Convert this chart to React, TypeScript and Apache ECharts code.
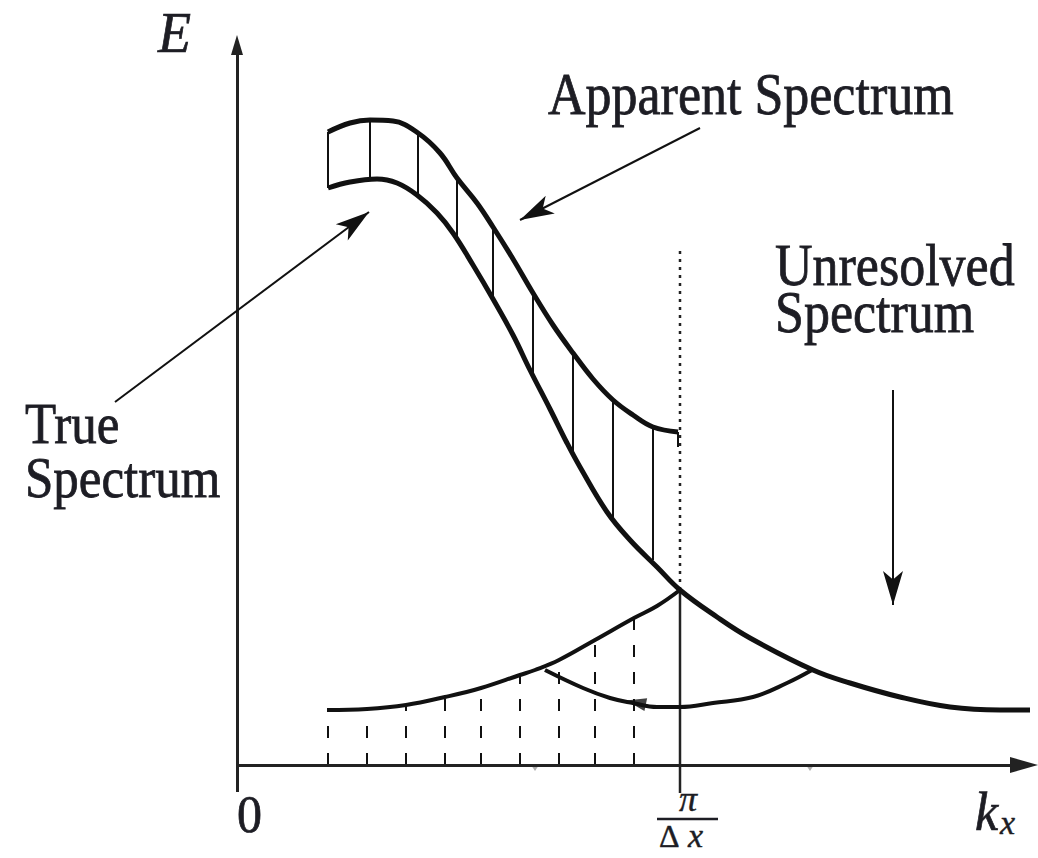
import React, { useEffect, useRef } from "react";
import * as echarts from "echarts";

// ---- data (x = k_x, y = E) ----
const TRUE_X = [0.91, 1.13, 1.40, 1.60, 1.80, 2.00, 2.16, 2.36, 2.56, 2.76, 2.93, 3.13, 3.30, 3.43, 3.70, 3.93, 4.20, 4.43, 4.80, 5.13, 5.76, 6.13, 6.63, 7.13, 7.63, 7.93];
const TRUE_Y = [5.77, 5.83, 5.86, 5.82, 5.70, 5.52, 5.32, 5.00, 4.66, 4.30, 3.95, 3.56, 3.22, 2.98, 2.53, 2.25, 1.98, 1.75, 1.48, 1.27, 0.95, 0.82, 0.68, 0.58, 0.55, 0.55];

const APP_X = [0.91, 1.13, 1.33, 1.56, 1.81, 2.03, 2.20, 2.40, 2.56, 2.76, 2.96, 3.16, 3.36, 3.56, 3.76, 3.96, 4.16, 4.41];
const APP_Y = [6.33, 6.42, 6.45, 6.44, 6.32, 6.12, 5.87, 5.62, 5.38, 5.06, 4.72, 4.40, 4.12, 3.86, 3.65, 3.50, 3.38, 3.33];

const FOLD_X = [0.90, 1.30, 1.69, 2.08, 2.44, 2.83, 2.98, 3.22, 3.58, 3.97, 4.20, 4.43];
const FOLD_Y = [0.55, 0.56, 0.60, 0.68, 0.77, 0.90, 0.95, 1.05, 1.25, 1.47, 1.59, 1.75];

const ARC_X = [3.08, 3.46, 3.73, 3.96, 4.20, 4.43, 4.76, 5.16, 5.50, 5.75];
const ARC_Y = [0.95, 0.77, 0.67, 0.62, 0.58, 0.58, 0.62, 0.68, 0.82, 0.95];
const ARC_HEAD = [3.99, 0.625];

const HATCH_X = [0.91, 1.33, 1.81, 2.20, 2.56, 2.96, 3.36, 3.76, 4.16, 4.41];
const HATCH_LO = [5.77, 5.86, 5.69, 5.26, 4.66, 3.87, 3.10, 2.47, 2.05, 3.18];
const HATCH_HI = [6.33, 6.45, 6.32, 5.87, 5.38, 4.72, 4.12, 3.65, 3.38, 3.33];

const DASH_X = [0.91, 1.30, 1.69, 2.08, 2.44, 2.83, 3.22, 3.58, 3.97];
const DASH_TOP = [0.55, 0.56, 0.60, 0.68, 0.77, 0.90, 1.05, 1.25, 1.47];

const NYQUIST = 4.43;
const NYQ_SOLID = [-0.28, 1.75];
const NYQ_DOTTED = [1.75, 5.15];

const AXIS_Y = [-0.27, 7.2];
const AXIS_X = [0, 7.87];

// annotation arrows: [fromX, fromY, toX, toY]
const ARROW_APPARENT = [4.63, 6.37, 2.83, 5.45];
const ARROW_TRUE = [-1.22, 3.63, 1.32, 5.53];
const ARROW_UNRESOLVED = [6.56, 3.75, 6.56, 1.6];

const TICK_MARKS_X = [2.98, 5.73];

const LABEL_APPARENT = "Apparent Spectrum";
const LABEL_UNRESOLVED = ["Unresolved", "Spectrum"];
const LABEL_TRUE = ["True", "Spectrum"];
const LABEL_E = "E";
const LABEL_ZERO = "0";
const LABEL_PI = "π";
const LABEL_DELTA = "Δ";
const LABEL_X = "x";
const LABEL_K = "k";

const INK = "#111";
const TEXT_INK = "#1d1d24";
const SERIF = '"Liberation Serif", "Times New Roman", serif';

const zip = (xs: number[], ys: number[]) => xs.map((x, i) => [x, ys[i]]);

function label(text: string, left: number, baseline: number, size: number, opts: any = {}) {
  const scaleY = opts.scaleY ?? 1;
  const align = opts.align ?? "left";
  return {
    type: "text",
    x: left,
    y: baseline - 0.34 * size * scaleY,
    scaleY,
    silent: true,
    style: {
      text,
      x: 0,
      y: 0,
      fill: TEXT_INK,
      stroke: TEXT_INK,
      lineWidth: opts.weight ?? 0.7,
      font: `${opts.italic ? "italic " : ""}${size}px ${SERIF}`,
      textAlign: align,
      textVerticalAlign: "middle",
    },
  };
}

function arrowLine(a: number[], size: number[], symbol = "arrow") {
  return [
    { coord: [a[0], a[1]], symbol: "none" },
    { coord: [a[2], a[3]], symbol, symbolSize: size },
  ];
}

export default function App() {
  const ref = useRef<HTMLDivElement>(null);
  useEffect(() => {
    if (!ref.current) return;
    const chart = echarts.init(ref.current, undefined, { renderer: "svg" });
    const option: any = {
      animation: false,
      backgroundColor: "#fff",
      grid: { left: 0, right: 0, top: 0, bottom: 0, containLabel: false },
      xAxis: { type: "value", min: -2.37, max: 8.01, show: false },
      yAxis: { type: "value", min: -0.93, max: 7.65, show: false },
      series: [
        {
          name: "True spectrum",
          type: "line",
          data: zip(TRUE_X, TRUE_Y),
          smooth: 0.4,
          symbol: "none",
          silent: true,
          z: 5,
          lineStyle: { color: INK, width: 5 },
          markLine: {
            silent: true,
            symbol: ["none", "none"],
            label: { show: false },
            lineStyle: { color: INK, width: 2, type: "solid" },
            data: HATCH_X.map((x, i) => [{ coord: [x, HATCH_LO[i]] }, { coord: [x, HATCH_HI[i]] }]),
          },
        },
        {
          name: "Apparent spectrum",
          type: "line",
          data: zip(APP_X, APP_Y),
          smooth: 0.4,
          symbol: "none",
          silent: true,
          z: 5,
          lineStyle: { color: INK, width: 5 },
        },
        {
          name: "Aliased spectrum",
          type: "line",
          data: zip(FOLD_X, FOLD_Y),
          smooth: 0.4,
          symbol: "none",
          silent: true,
          z: 5,
          lineStyle: { color: INK, width: 4 },
          markLine: {
            silent: true,
            symbol: ["none", "none"],
            label: { show: false },
            lineStyle: { color: INK, width: 2, type: [12, 15] },
            data: DASH_X.map((x, i) => [{ coord: [x, 0] }, { coord: [x, DASH_TOP[i]] }]),
          },
        },
        {
          name: "Fold",
          type: "line",
          data: zip(ARC_X, ARC_Y),
          smooth: 0.4,
          symbol: "none",
          silent: true,
          z: 5,
          lineStyle: { color: INK, width: 4 },
        },
        {
          name: "Fold arrow",
          type: "scatter",
          data: [ARC_HEAD],
          symbol: "triangle",
          symbolSize: [13, 20],
          symbolRotate: 78,
          silent: true,
          z: 6,
          itemStyle: { color: INK },
        },
        {
          name: "Nyquist solid",
          type: "line",
          data: [[NYQUIST, NYQ_SOLID[0]], [NYQUIST, NYQ_SOLID[1]]],
          symbol: "none",
          silent: true,
          lineStyle: { color: "#222", width: 2.5 },
          markLine: {
            silent: true,
            label: { show: false },
            lineStyle: { color: "#222", width: 3, type: "solid" },
            data: [
              arrowLine([0, AXIS_Y[0], 0, AXIS_Y[1]], [12, 20], "triangle"),
              arrowLine([AXIS_X[0], 0, AXIS_X[1], 0], [16, 28], "triangle"),
            ],
          },
        },
        {
          name: "Nyquist dotted",
          type: "line",
          data: [[NYQUIST, NYQ_DOTTED[0]], [NYQUIST, NYQ_DOTTED[1]]],
          symbol: "none",
          silent: true,
          lineStyle: { color: "#222", width: 2.5, type: [3, 5] },
          markLine: {
            silent: true,
            label: { show: false },
            lineStyle: { color: INK, width: 2, type: "solid" },
            data: [
              arrowLine(ARROW_APPARENT, [15, 34]),
              arrowLine(ARROW_TRUE, [15, 34]),
              arrowLine(ARROW_UNRESOLVED, [15, 34]),
            ],
          },
        },
        {
          name: "Axis marks",
          type: "scatter",
          data: TICK_MARKS_X.map((x) => [x, -0.03]),
          symbol: "triangle",
          symbolRotate: 180,
          symbolSize: [8, 6],
          silent: true,
          itemStyle: { color: "#9a9a9a" },
        },
      ],
      graphic: [
        label(LABEL_APPARENT, 548, 114, 52, { scaleY: 1.12 }),
        label(LABEL_UNRESOLVED[0], 775, 285, 52, { scaleY: 1.12 }),
        label(LABEL_UNRESOLVED[1], 775, 332, 52, { scaleY: 1.12 }),
        label(LABEL_TRUE[0], 25, 443, 51, { scaleY: 1.12 }),
        label(LABEL_TRUE[1], 25, 497, 51, { scaleY: 1.12 }),
        label(LABEL_E, 158, 52, 54, { italic: true, scaleY: 1.05 }),
        label(LABEL_ZERO, 237, 832, 50, { scaleY: 1.05 }),
        label(LABEL_PI, 688, 811, 36, { align: "center", italic: true, weight: 0.4 }),
        {
          type: "line",
          silent: true,
          shape: { x1: 657, y1: 819, x2: 718, y2: 819 },
          style: { stroke: TEXT_INK, lineWidth: 2.5 },
        },
        label(LABEL_DELTA, 659, 847, 32, { weight: 0.4 }),
        label(LABEL_X, 688, 847, 34, { italic: true, weight: 0.4 }),
        label(LABEL_K, 975, 830, 52, { italic: true, scaleY: 1.05 }),
        label(LABEL_X, 1000, 834, 34, { italic: true, weight: 0.4 }),
      ],
    };
    chart.setOption(option);
    return () => chart.dispose();
  }, []);
  return (
    <div
      ref={ref}
      style={{ position: "fixed", left: 0, top: 0, width: 1038, height: 858, background: "#fff" }}
    />
  );
}
